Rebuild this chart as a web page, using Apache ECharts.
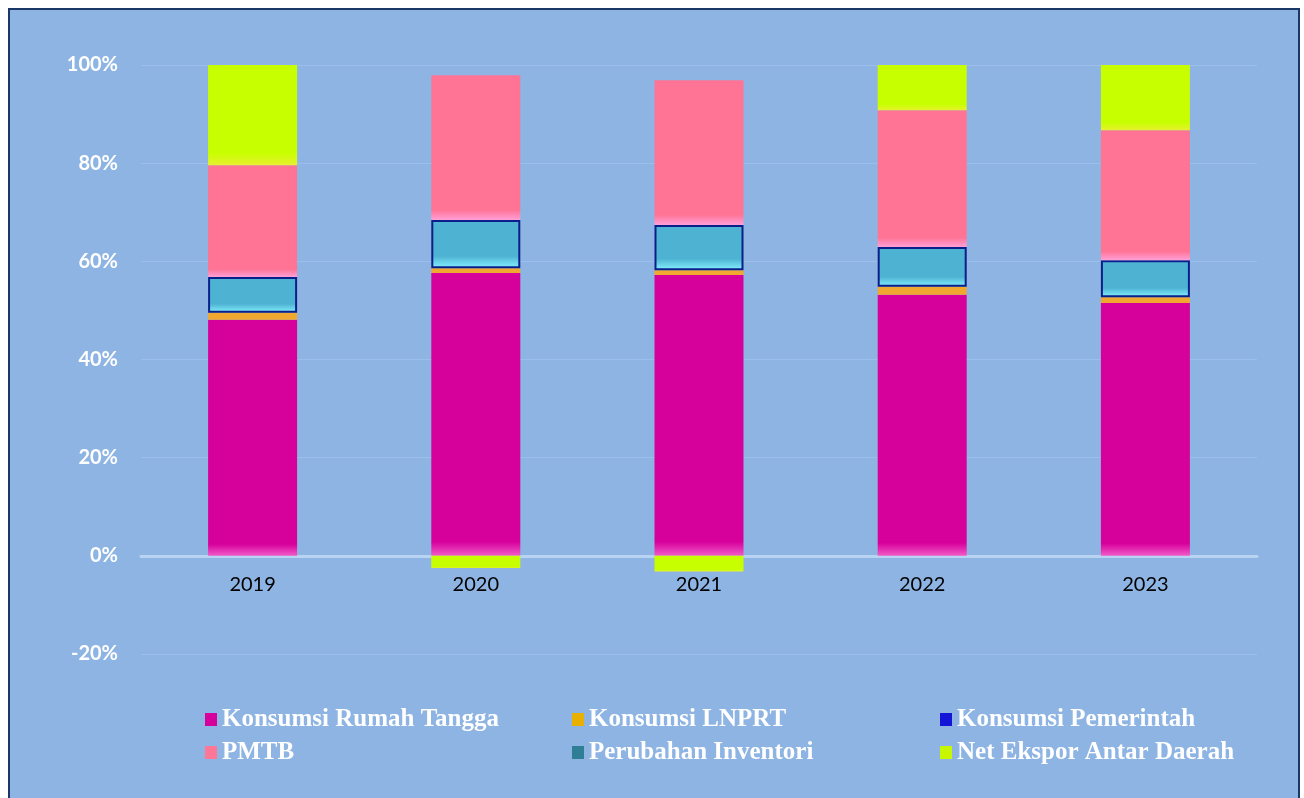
<!DOCTYPE html>
<html>
<head>
<meta charset="utf-8">
<script src="https://cdn.jsdelivr.net/npm/echarts@6/dist/echarts.min.js"></script>
<style>
  html, body { margin: 0; padding: 0; background: #ffffff; }
  #main { width: 1304px; height: 798px; }
</style>
</head>
<body>
<div id="main"></div>
<script>
var years = ['2019', '2020', '2021', '2022', '2023'];
var rumahTangga = [48.1, 57.6, 57.2, 53.2, 51.5];
var lnprt = [1.4, 1.0, 1.0, 1.6, 1.2];
var pemerintah = [7.3, 9.8, 9.2, 8.1, 7.5];
var inventori = [0, 0, 0, 0, 0];
var pmtb = [22.8, 29.5, 29.5, 27.9, 26.5];
var netEkspor = [20.4, -2.5, -3.2, 9.6, 13.6];
var yTicks = [-20, 0, 20, 40, 60, 80, 100];

var chart = echarts.init(document.getElementById('main'));

// vertical gradient with a light band at the bottom, like the bevel in the original
function bevel(main, light, start) {
    return new echarts.graphic.LinearGradient(0, 0, 0, 1, [
        { offset: 0, color: main },
        { offset: start, color: main },
        { offset: 1, color: light }
    ]);
}

function seg(name, data, color, extra) {
    var s = {
        name: name,
        type: 'bar',
        stack: 'total',
        barWidth: 89,
        data: data,
        itemStyle: { color: color }
    };
    if (extra) { s.itemStyle = Object.assign(s.itemStyle, extra); }
    return s;
}

var legendText = {
    color: '#ffffff',
    fontFamily: 'Liberation Serif',
    fontWeight: 'bold',
    fontSize: 25,
    lineHeight: 22
};

function legendCol(left, items) {
    return {
        orient: 'vertical',
        left: left,
        top: 702,
        itemWidth: 12,
        itemHeight: 13,
        itemGap: 8,
        icon: 'rect',
        textStyle: legendText,
        selectedMode: false,
        data: items
    };
}

chart.setOption({
    backgroundColor: '#ffffff',
    animation: false,
    graphic: [{
        type: 'rect',
        z: -10,
        shape: { x: 9, y: 9, width: 1290, height: 800 },
        style: { fill: '#8EB4E3', stroke: '#1B3766', lineWidth: 2 }
    }],
    grid: { left: 141, right: 47, top: 65, bottom: 144, containLabel: false },
    legend: [
        legendCol(200, [
            { name: 'Konsumsi Rumah Tangga', itemStyle: { color: '#D6009B' } },
            { name: 'PMTB', itemStyle: { color: '#FF7797' } }
        ]),
        legendCol(567, [
            { name: 'Konsumsi LNPRT', itemStyle: { color: '#E8B000' } },
            { name: 'Perubahan Inventori', itemStyle: { color: '#2E7F95' } }
        ]),
        legendCol(935, [
            { name: 'Konsumsi Pemerintah', itemStyle: { color: '#1515D8', borderWidth: 0 } },
            { name: 'Net Ekspor Antar Daerah', itemStyle: { color: '#C8F500' } }
        ])
    ],
    xAxis: {
        type: 'category',
        data: years,
        offset: -98,
        axisLine: { onZero: false, lineStyle: { color: '#B9D3F2', width: 3 } },
        axisTick: { show: false },
        axisLabel: {
            color: '#000000',
            fontFamily: 'Lato',
            fontSize: 20,
            margin: 19
        }
    },
    yAxis: {
        type: 'value',
        min: yTicks[0],
        max: yTicks[yTicks.length - 1],
        interval: 20,
        axisLine: { show: false },
        axisTick: { show: false },
        splitLine: { lineStyle: { color: '#9BBFEA', width: 1 } },
        axisLabel: {
            color: '#ffffff',
            fontFamily: 'Lato',
            fontWeight: 'bold',
            fontSize: 20,
            margin: 23,
            formatter: '{value}%'
        }
    },
    series: [
        seg('Konsumsi Rumah Tangga', rumahTangga, bevel('#D6009B', '#F25AC8', 0.95)),
        seg('Konsumsi LNPRT', lnprt, '#F0A830'),
        seg('Konsumsi Pemerintah', pemerintah, bevel('#4EB3D3', '#86F2FF', 0.75), { borderColor: '#0B1F8A', borderWidth: 2 }),
        seg('Perubahan Inventori', inventori, '#2E7F95'),
        seg('PMTB', pmtb, bevel('#FF7395', '#FFA0D8', 0.93)),
        seg('Net Ekspor Antar Daerah', netEkspor, bevel('#C8FF00', '#E8F030', 0.88))
    ]
});
</script>
</body>
</html>
